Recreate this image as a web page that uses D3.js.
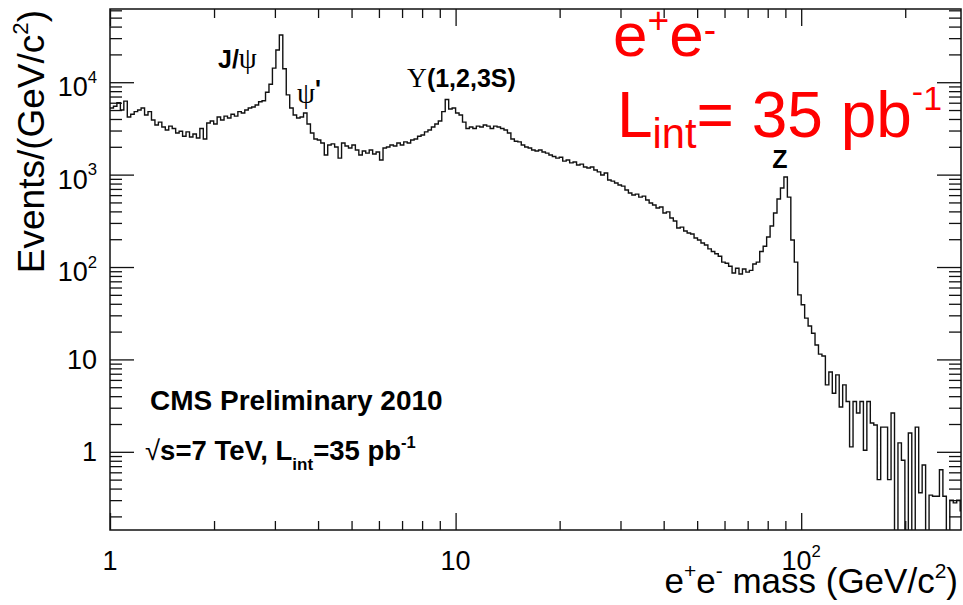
<!DOCTYPE html>
<html>
<head>
<meta charset="utf-8">
<script src="https://cdn.jsdelivr.net/npm/d3@7"></script>
<style>
  body { margin: 0; background: #fff; }
  svg { display: block; font-family: "Liberation Sans", Arial, Helvetica, sans-serif; }
</style>
</head>
<body>
<svg id="chart" width="963" height="605"></svg>
<script>
// Dielectron invariant-mass spectrum, log-spaced bins (100 per decade from 1 GeV/c^2)
const binsPerDecade = 100;
const massMin = 1;

// Events/(GeV/c^2) in each bin
const eventsPerGeV = [
  5260, 5500, 6000, 5000, 6250, 4200, 4500, 4800, 5000, 5260,
  4420, 4800, 3900, 3440, 3700, 3270, 3040, 3350, 3150, 2820,
  2950, 2600, 2900, 2550, 2750, 2490, 3150, 2430, 3620, 3800,
  3530, 4200, 3900, 4300, 4100, 4500, 4300, 4800, 4640, 5000,
  5260, 5400, 5670, 6150, 6300, 7800, 9500, 14200, 22300, 32400,
  14000, 7300, 5260, 4420, 4100, 4200, 4640, 3530, 2820, 2430,
  2370, 2200, 1630, 2090, 2150, 1990, 1510, 2200, 2040, 1940,
  2090, 1850, 1630, 1800, 1710, 1850, 1670, 1760, 1440, 1940,
  1990, 2090, 2040, 2200, 2090, 2260, 2200, 2370, 2430, 2600,
  2680, 2900, 3040, 3270, 3530, 3800, 4800, 6500, 5130, 5260,
  4640, 4420, 3700, 3150, 3270, 3150, 3350, 3270, 3440, 3350,
  3150, 3350, 3270, 3150, 3040, 2820, 2430, 2300, 2260, 2090,
  1990, 1940, 1850, 1800, 1850, 1760, 1710, 1630, 1570, 1510,
  1540, 1400, 1440, 1340, 1370, 1270, 1300, 1210, 1180, 1210,
  1120, 1070, 990, 1040, 875, 850, 811, 772, 750, 681,
  632, 601, 615, 570, 585, 531, 493, 469, 435, 447,
  384, 395, 339, 315, 264, 270, 245, 233, 228, 206,
  196, 182, 173, 157, 147, 139, 131, 113, 110, 102,
  86, 97, 84, 95, 88, 92, 108, 113, 147, 168,
  211, 278, 384, 545, 716, 942, 570, 196, 113, 50,
  39, 28, 23, 19.2, 14.3, 11.4, 10.9, 5.3, 7.3, 4.3,
  6.8, 3.05, 5.3, 3.5, 1.13, 3.5, 2.63, 3.5, 1.04, 3.5,
  2.05, 1.95, 0.5, 1.85, 1.85, 0.5, 2.63, 0, 1.25, 0.81,
  0, 1.6, 0, 1.85, 0.36, 0.72, 0, 0.34, 0.33, 0.33,
  0.64, 0.33, 0, 0.30, 0.28, 0.30, 0.23
];

// Axis ticks and their labels ([base, superscript])
const xMajorTicks = [1, 10, 100];
const xTickLabels = [["1", ""], ["10", ""], ["10", "2"]];
const yMajorTicks = [1, 10, 100, 1000, 10000];
const yTickLabels = [["1", ""], ["10", ""], ["10", "2"], ["10", "3"], ["10", "4"]];

const massMax = 290;
const yMin = 0.1425, yMax = 62000;

const svg = d3.select("#chart");
const frame = { left: 110, right: 961, top: 9, bottom: 530 };

const x = d3.scaleLog().domain([massMin, massMax]).range([frame.left, frame.right]);
const y = d3.scaleLog().domain([yMin, yMax]).range([frame.bottom, frame.top]);

function minorTicks(lo, hi, decades) {
  const out = [];
  decades.forEach(d => { for (let k = 2; k <= 9; k++) { const v = k * d; if (v > lo && v < hi) out.push(v); } });
  return out;
}
const xMinor = minorTicks(massMin, massMax, [1, 10, 100]);
const yMinor = minorTicks(yMin, yMax, [0.1, 1, 10, 100, 1000, 10000]);

// --- histogram -----------------------------------------------------------
svg.append("clipPath").attr("id", "plotClip")
  .append("rect")
  .attr("x", frame.left).attr("y", frame.top)
  .attr("width", frame.right - frame.left).attr("height", frame.bottom - frame.top);

const edges = d3.range(eventsPerGeV.length + 1).map(i => massMin * Math.pow(10, i / binsPerDecade));
const steps = eventsPerGeV.map((v, i) => [edges[i], v]);
steps.push([edges[edges.length - 1], eventsPerGeV[eventsPerGeV.length - 1]]);

const stepLine = d3.line()
  .x(d => x(d[0]))
  .y(d => d[1] > 0 ? y(d[1]) : frame.bottom + 10)
  .curve(d3.curveStepAfter);

svg.append("path")
  .attr("clip-path", "url(#plotClip)")
  .attr("d", stepLine(steps))
  .attr("fill", "none")
  .attr("stroke", "#111")
  .attr("stroke-width", 1.4);

// --- frame and ticks ------------------------------------------------------
function tickAxis(axisFn, scale, values, size, transform) {
  const g = svg.append("g").attr("transform", transform)
    .call(axisFn(scale).tickValues(values).tickSize(size).tickFormat(() => ""));
  g.select(".domain").remove();
  g.selectAll(".tick line").attr("stroke", "#111").attr("stroke-width", 1.3);
  return g;
}
tickAxis(d3.axisBottom, x, xMajorTicks, -17, `translate(0,${frame.bottom})`);
tickAxis(d3.axisBottom, x, xMinor, -9, `translate(0,${frame.bottom})`);
tickAxis(d3.axisTop, x, xMajorTicks, -17, `translate(0,${frame.top})`);
tickAxis(d3.axisTop, x, xMinor, -9, `translate(0,${frame.top})`);
tickAxis(d3.axisLeft, y, yMajorTicks, -24, `translate(${frame.left},0)`);
tickAxis(d3.axisLeft, y, yMinor, -12, `translate(${frame.left},0)`);
tickAxis(d3.axisRight, y, yMajorTicks, -24, `translate(${frame.right},0)`);
tickAxis(d3.axisRight, y, yMinor, -12, `translate(${frame.right},0)`);

svg.append("rect")
  .attr("x", frame.left).attr("y", frame.top)
  .attr("width", frame.right - frame.left).attr("height", frame.bottom - frame.top)
  .attr("fill", "none").attr("stroke", "#111").attr("stroke-width", 1.5);

// --- rich text helper (sub/superscripts via tspans) ---------------------------
function rich(x0, y0, size, parts, opts = {}) {
  const t = svg.append("text")
    .attr("x", x0).attr("y", y0)
    .attr("font-size", size)
    .attr("fill", opts.fill || "#000")
    .attr("font-weight", opts.weight || "normal")
    .attr("text-anchor", opts.anchor || "start");
  if (opts.transform) t.attr("transform", opts.transform);
  let cur = 0;
  parts.forEach(p => {
    const off = (p.off || 0) * size;
    const ts = t.append("tspan").attr("dy", off - cur).text(p.t);
    if (p.s) ts.attr("font-size", size * p.s);
    if (p.font) ts.attr("font-family", p.font);
    if (p.w) ts.attr("font-weight", p.w);
    if (p.dx) ts.attr("dx", p.dx);
    cur = off;
  });
  return t;
}

// tick labels
const tickFont = 27;
yMajorTicks.forEach((v, i) => {
  const [base, sup] = yTickLabels[i];
  const parts = [{ t: base }];
  if (sup) parts.push({ t: sup, s: 0.62, off: -0.5 });
  rich(97, y(v) + (sup ? 14 : 9.5), tickFont, parts, { anchor: "end" });
});
xMajorTicks.forEach((v, i) => {
  const [base, sup] = xTickLabels[i];
  const parts = [{ t: base }];
  if (sup) parts.push({ t: sup, s: 0.62, off: -0.5 });
  rich(x(v), 570, tickFont, parts, { anchor: "middle" });
});

// axis titles
rich(958, 593, 35, [
  { t: "e" }, { t: "+", s: 0.6, off: -0.42 }, { t: "e" }, { t: "-", s: 0.6, off: -0.42 },
  { t: " mass (GeV/c" }, { t: "2", s: 0.6, off: -0.42 }, { t: ")" }
], { anchor: "end" });

rich(0, 0, 37, [
  { t: "Events/(GeV/c" }, { t: "2", s: 0.6, off: -0.42 }, { t: ")" }
], { anchor: "end", transform: "translate(44,10) rotate(-90)" });

// resonance labels
const serif = "'Liberation Serif', 'DejaVu Serif', serif";
rich(218, 68, 25, [{ t: "J/", w: "bold" }, { t: "\u03C8", font: serif, s: 1.15 }]);
rich(297, 103, 25, [{ t: "\u03C8", font: serif, s: 1.15 }, { t: "'", w: "bold", off: -0.2 }]);
rich(407, 87, 25, [{ t: "\u03A5", font: serif, s: 1.1 }, { t: "(1,2,3S)", w: "bold" }]);
rich(780, 168, 25, [{ t: "Z", w: "bold" }], { anchor: "middle" });

// experiment labels
rich(150, 410, 28, [{ t: "CMS Preliminary 2010" }], { weight: "bold" });
rich(145, 460, 27.5, [
  { t: "\u221A", w: "normal" }, { t: "s=7 TeV, L" }, { t: "int", s: 0.62, off: 0.35 },
  { t: "=35 pb" }, { t: "-1", s: 0.6, off: -0.45 }
], { weight: "bold" });

// big red channel / luminosity note
rich(613, 56, 62, [
  { t: "e" }, { t: "+", s: 0.6, off: -0.37 }, { t: "e" }, { t: "-", s: 0.6, off: -0.23 }
], { fill: "#ff0000" });
rich(617, 137, 64, [
  { t: "L" }, { t: "int", s: 0.65, off: 0.17 }, { t: "= 35 pb" },
  { t: "-", s: 0.53, off: -0.53 }, { t: "1", s: 0.53, off: -0.42 }
], { fill: "#ff0000" });
</script>
</body>
</html>
